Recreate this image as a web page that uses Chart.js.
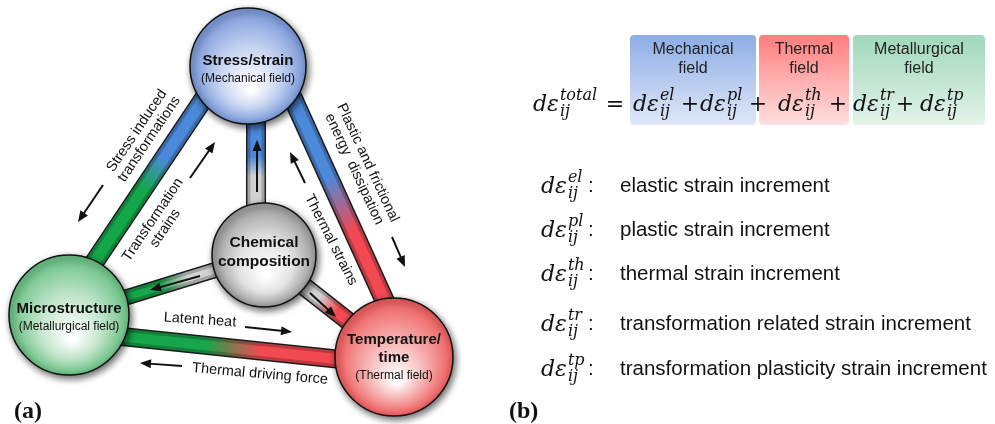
<!DOCTYPE html>
<html><head><meta charset="utf-8">
<script src="https://cdn.jsdelivr.net/npm/chart.js@4.4.1/dist/chart.umd.min.js"></script>
<style>html,body{margin:0;padding:0;background:#fff;overflow:hidden}canvas{display:block}</style>
</head><body>
<canvas id="c" width="995" height="424" style="width:995px;height:424px"></canvas>
<script>
// ---------- DATA ----------
// nodes: Stress/strain, Microstructure, Temperature/time, Chemical composition
const nodeTitles = [["Stress/strain"], ["Microstructure"], ["Temperature/", "time"], ["Chemical", "composition"]];
const nodeSubtitles = ["(Mechanical field)", "(Metallurgical field)", "(Thermal field)", ""];
const nodeX = [248, 69, 394, 264];
const nodeY = [66, 315, 357, 255];
const nodeR = [58, 60, 59, 52];

// links (bars) between nodes
const linkX1 = [223, 280, 69, 256, 264, 264];
const linkY1 = [70, 70, 331, 250, 255, 255];
const linkX2 = [69, 398, 394, 256, 69, 394];
const linkY2 = [300, 330, 365, 70, 315, 357];
const linkStopA = [0.38, 0.41, 0.42, 0.41, 0.39, 0.42];
const linkStopB = [0.52, 0.62, 0.59, 0.52, 0.53, 0.56];

// arrows
const arrowX1 = [103, 190, 392, 305, 245, 182, 257, 200, 310];
const arrowY1 = [185, 178, 237, 183, 327, 366, 192, 276, 293];
const arrowX2 = [78, 215, 405, 290, 292, 140, 257, 150, 336];
const arrowY2 = [222, 142, 267, 152, 332, 363, 140, 290, 317];

// relation labels
const relLines = [["Stress induced", "transformations"], ["Transformation", "strains"], ["Plastic and frictional", "energy  dissipation"], ["Thermal strains"], ["Latent heat"], ["Thermal driving force"]];

// formula
const fieldNames = [["Mechanical", "field"], ["Thermal", "field"], ["Metallurgical", "field"]];
const strainSup = ["el", "pl", "th", "tr", "tp"];
const strainDesc = ["elastic strain increment", "plastic strain increment", "thermal strain increment", "transformation related strain increment", "transformation plasticity strain increment"];

// ---------- STYLE / LAYOUT ----------
const nodeEdge = ["#7896d8", "#66bf82", "#ee5a5a", "#999999"];
const nodeMid = ["#c6d4f2", "#c1e5ca", "#f6aeae", "#e2e2e2"];
const linkColA = ["#4c89da", "#4c89da", "#17a64b", "#d2d2d2", "#d2d2d2", "#d2d2d2"];
const linkColB = ["#14a74a", "#f24952", "#f24952", "#4c89da", "#17a64b", "#f24952"];
const linkW = [17, 17, 16, 17, 13, 16];
const relLayout = [
  {x: 143, y: 135, a: -56, gap: 15},
  {x: 159, y: 224, a: -56, gap: 15},
  {x: 361, y: 166, a: 65, gap: 15},
  {x: 331, y: 240, a: 63, gap: 15},
  {x: 200, y: 320, a: 4, gap: 15},
  {x: 260, y: 374, a: 5, gap: 15}
];
const nodeTextY = [[61, 79], [309, 327], [340, 358, 376], [243, 262]];
const boxX = [630, 759, 853], boxW = [126, 90, 132], boxY = 35, boxH = 90;
const boxTop = ["#8dade6", "#ff7d7d", "#a0d8bb"], boxBot = ["#e0e8f8", "#ffe0e0", "#e3f3ea"];
const termX = [633, 700, 778, 853, 920];
const plusX = [690, 758, 838, 905];
const rowY = [185, 229, 273, 323, 368];

const SANS = "'Liberation Sans', Arial, sans-serif";
const MATH = "'DejaVu Serif', serif";

function gradFor(i) {
  return (c) => {
    const ch = c.chart;
    if (!ch.chartArea) return linkColA[i];
    const xs = ch.scales.x, ys = ch.scales.y;
    const g = ch.ctx.createLinearGradient(xs.getPixelForValue(linkX1[i]), ys.getPixelForValue(linkY1[i]), xs.getPixelForValue(linkX2[i]), ys.getPixelForValue(linkY2[i]));
    g.addColorStop(0, linkColA[i]); g.addColorStop(linkStopA[i], linkColA[i]);
    g.addColorStop(linkStopB[i], linkColB[i]); g.addColorStop(1, linkColB[i]);
    return g;
  };
}
const datasets = [];
for (let i = 0; i < linkX1.length; i++) {
  const pts = [{x: linkX1[i], y: linkY1[i]}, {x: linkX2[i], y: linkY2[i]}];
  const base = {type: 'line', data: pts, pointRadius: 0, borderCapStyle: 'butt', tension: 0, fill: false, clip: false};
  datasets.push(Object.assign({}, base, {borderColor: '#1a1a1a', borderWidth: linkW[i] + 3, order: 5}));
  datasets.push(Object.assign({}, base, {borderColor: gradFor(i), borderWidth: linkW[i], order: 4}));
  datasets.push(Object.assign({}, base, {borderColor: 'rgba(0,0,0,0.22)', borderWidth: linkW[i], order: 3}));
  datasets.push(Object.assign({}, base, {borderColor: gradFor(i), borderWidth: linkW[i] - 6, order: 2}));
}
datasets.push({type: 'bubble', label: 'nodes', order: 0, clip: false,
  data: nodeX.map((x, i) => ({x: x, y: nodeY[i], r: nodeR[i]})),
  borderColor: '#111', borderWidth: 1.5,
  backgroundColor: (c) => {
    const ch = c.chart, i = c.dataIndex;
    if (!ch.chartArea || i === undefined) return nodeMid[0];
    const cx = ch.scales.x.getPixelForValue(nodeX[i]), cy = ch.scales.y.getPixelForValue(nodeY[i]), r = nodeR[i];
    const g = ch.ctx.createRadialGradient(cx + 0.05 * r, cy + 0.4 * r, r * 0.05, cx, cy, r);
    g.addColorStop(0, '#ffffff'); g.addColorStop(0.5, nodeMid[i]); g.addColorStop(1, nodeEdge[i]);
    return g;
  }});

function arrow(ctx, x1, y1, x2, y2) {
  const a = Math.atan2(y2 - y1, x2 - x1), hl = 11, hw = 4.5;
  ctx.beginPath(); ctx.moveTo(x1, y1); ctx.lineTo(x2 - Math.cos(a) * hl * 0.8, y2 - Math.sin(a) * hl * 0.8);
  ctx.lineWidth = 2; ctx.strokeStyle = '#111'; ctx.stroke();
  ctx.beginPath(); ctx.moveTo(x2, y2);
  ctx.lineTo(x2 - Math.cos(a) * hl - Math.sin(a) * hw, y2 - Math.sin(a) * hl + Math.cos(a) * hw);
  ctx.lineTo(x2 - Math.cos(a) * hl + Math.sin(a) * hw, y2 - Math.sin(a) * hl - Math.cos(a) * hw);
  ctx.closePath(); ctx.fillStyle = '#111'; ctx.fill();
}
function term(ctx, x, base, sup, sub, size) {
  ctx.textAlign = 'left'; ctx.textBaseline = 'alphabetic'; ctx.fillStyle = '#111';
  ctx.font = 'italic ' + size + 'px ' + MATH;
  ctx.fillText('d\u03b5', x, base);
  const w = ctx.measureText('d\u03b5').width;
  const s = Math.round(size * 0.72);
  ctx.font = 'italic ' + s + 'px ' + MATH;
  ctx.fillText(sup, x + w + 1, base - size * 0.52);
  ctx.fillText(sub, x + w + 1, base + size * 0.22);
  return w + Math.max(ctx.measureText(sup).width, ctx.measureText(sub).width);
}
function rrect(ctx, x, y, w, h, r) {
  ctx.beginPath(); ctx.moveTo(x + r, y); ctx.lineTo(x + w - r, y); ctx.quadraticCurveTo(x + w, y, x + w, y + r);
  ctx.lineTo(x + w, y + h - r); ctx.quadraticCurveTo(x + w, y + h, x + w - r, y + h); ctx.lineTo(x + r, y + h);
  ctx.quadraticCurveTo(x, y + h, x, y + h - r); ctx.lineTo(x, y + r); ctx.quadraticCurveTo(x, y, x + r, y); ctx.closePath();
}

const diagram = {
  id: 'diagram',
  beforeDatasetsDraw(chart) {
    const ctx = chart.ctx, X = v => chart.scales.x.getPixelForValue(v), Y = v => chart.scales.y.getPixelForValue(v);
    for (let i = 0; i < 3; i++) {
      const g = ctx.createLinearGradient(0, Y(boxY), 0, Y(boxY + boxH));
      g.addColorStop(0, boxTop[i]); g.addColorStop(1, boxBot[i]);
      ctx.fillStyle = g; rrect(ctx, X(boxX[i]), Y(boxY), boxW[i], boxH, 4); ctx.fill();
      ctx.fillStyle = '#222'; ctx.font = '16px ' + SANS; ctx.textAlign = 'center'; ctx.textBaseline = 'middle';
      ctx.fillText(fieldNames[i][0], X(boxX[i] + boxW[i] / 2), Y(50));
      ctx.fillText(fieldNames[i][1], X(boxX[i] + boxW[i] / 2), Y(69));
    }
  },
  beforeDatasetDraw(chart, args) {
    if (args.meta.type === 'bubble') {
      const ctx = chart.ctx; ctx.save();
      ctx.shadowColor = 'rgba(0,0,0,0.6)'; ctx.shadowBlur = 7; ctx.shadowOffsetX = 2; ctx.shadowOffsetY = 3;
    }
  },
  afterDatasetDraw(chart, args) { if (args.meta.type === 'bubble') chart.ctx.restore(); },
  afterDatasetsDraw(chart) {
    const ctx = chart.ctx, X = v => chart.scales.x.getPixelForValue(v), Y = v => chart.scales.y.getPixelForValue(v);
    ctx.save();
    for (let i = 0; i < arrowX1.length; i++) arrow(ctx, X(arrowX1[i]), Y(arrowY1[i]), X(arrowX2[i]), Y(arrowY2[i]));
    // relation labels
    ctx.fillStyle = '#111'; ctx.font = '14.5px ' + SANS; ctx.textAlign = 'center'; ctx.textBaseline = 'middle';
    relLines.forEach((lines, i) => {
      const L = relLayout[i];
      ctx.save(); ctx.translate(X(L.x), Y(L.y)); ctx.rotate(L.a * Math.PI / 180);
      lines.forEach((t, k) => ctx.fillText(t, 0, (k - (lines.length - 1) / 2) * L.gap));
      ctx.restore();
    });
    // node titles
    nodeTitles.forEach((lines, i) => {
      lines.forEach((t, k) => { ctx.font = 'bold ' + (i === 3 ? 15.5 : 15) + 'px ' + SANS; ctx.fillText(t, X(nodeX[i]), Y(nodeTextY[i][k])); });
      if (nodeSubtitles[i]) { ctx.font = '12px ' + SANS; ctx.fillText(nodeSubtitles[i], X(nodeX[i]), Y(nodeTextY[i][lines.length])); }
    });
    // formula
    term(ctx, X(533), Y(111), 'total', 'ij', 22);
    ctx.font = '22px ' + MATH; ctx.textAlign = 'center'; ctx.textBaseline = 'alphabetic';
    ctx.fillText('=', X(615), Y(111));
    plusX.forEach(px => { ctx.textAlign = 'center'; ctx.font = '22px ' + MATH; ctx.fillText('+', X(px), Y(111)); });
    termX.forEach((tx, i) => term(ctx, X(tx), Y(111), strainSup[i], 'ij', 22));
    // definitions
    strainSup.forEach((s, i) => {
      term(ctx, X(541), Y(rowY[i] + 8), s, 'ij', 22);
      ctx.font = '20.5px ' + SANS; ctx.textAlign = 'left'; ctx.textBaseline = 'alphabetic';
      ctx.fillText(':', X(588), Y(rowY[i] + 7));
      ctx.fillText(strainDesc[i], X(620), Y(rowY[i] + 7));
    });
    ctx.font = 'bold 24px "Liberation Serif", serif'; ctx.textAlign = 'left';
    ctx.fillText('(a)', X(14), Y(418));
    ctx.fillText('(b)', X(509), Y(418));
    ctx.restore();
  }
};

new Chart(document.getElementById('c'), {
  type: 'scatter',
  data: {datasets},
  options: {
    responsive: false, animation: false, devicePixelRatio: 1, events: [],
    layout: {padding: 0, autoPadding: false},
    plugins: {legend: {display: false}, tooltip: {enabled: false}},
    scales: {
      x: {type: 'linear', min: 0, max: 995, display: false},
      y: {type: 'linear', min: 0, max: 424, reverse: true, display: false}
    }
  },
  plugins: [diagram]
});
</script>
</body></html>
